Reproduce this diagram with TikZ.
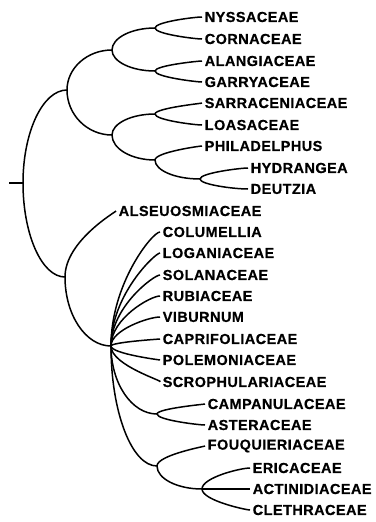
\documentclass[tikz,border=0pt]{standalone}
\usepackage{fontspec}
\setmainfont{Liberation Sans}
\newfontfamily\taxfont{Liberation Sans}[LetterSpace=3, BoldFeatures={FakeBold=0.5}]
\usetikzlibrary{calc}

\begin{document}
\begin{tikzpicture}[
    x=1pt, y=-1pt,
    line width=1.5pt,
    taxon/.style={anchor=west, inner sep=2pt, font=\taxfont\bfseries\fontsize{14.5}{17}\selectfont},
    clade/.style={to path={.. controls ($(\tikztostart)!0.55!(\tikztostart |- \tikztotarget)$) and ($(\tikztotarget)!0.55!(\tikztostart |- \tikztotarget)$) .. (\tikztotarget)}},
    twig/.style={to path={.. controls ($(\tikztostart)!0.55!(\tikztostart |- \tikztotarget)$) and ($([xshift=-9pt]\tikztotarget)!0.55!(\tikztostart |- \tikztotarget)$) .. ([xshift=-9pt]\tikztotarget) -- (\tikztotarget)}}
]
\useasboundingbox (0,0) rectangle (375,522);

\coordinate (base) at (9,183);
\coordinate (root) at (23,183);
\coordinate (upper) at (67,90);
\coordinate (lower) at (65,277);
\coordinate (corn) at (112,50);
\coordinate (nysscorn) at (155,28);
\coordinate (alangarry) at (155,71);
\coordinate (saxi) at (112,135);
\coordinate (sarrloas) at (155,114);
\coordinate (hydr) at (155,160);
\coordinate (hydrdeut) at (200,179);
\coordinate (poly) at (111,346);
\coordinate (campast) at (157,414);
\coordinate (eric) at (157,466);
\coordinate (ericclade) at (202,489);

\node[taxon] (nyss) at (202,17) {NYSSACEAE};
\node[taxon] (cornaceae) at (202,39) {CORNACEAE};
\node[taxon] (alang) at (202,61) {ALANGIACEAE};
\node[taxon] (garry) at (202,82) {GARRYACEAE};
\node[taxon] (sarr) at (202,103) {SARRACENIACEAE};
\node[taxon] (loas) at (202,125) {LOASACEAE};
\node[taxon] (phil) at (202,146) {PHILADELPHUS};
\node[taxon] (hydrangea) at (248,168) {HYDRANGEA};
\node[taxon] (deutzia) at (248,189) {DEUTZIA};
\node[taxon] (alseu) at (116,211) {ALSEUOSMIACEAE};
\node[taxon] (colum) at (160,232) {COLUMELLIA};
\node[taxon] (logan) at (160,253) {LOGANIACEAE};
\node[taxon] (solan) at (160,275) {SOLANACEAE};
\node[taxon] (rubi) at (160,296) {RUBIACEAE};
\node[taxon] (vibur) at (160,317) {VIBURNUM};
\node[taxon] (capri) at (160,339) {CAPRIFOLIACEAE};
\node[taxon] (polem) at (160,360) {POLEMONIACEAE};
\node[taxon] (scroph) at (160,382) {SCROPHULARIACEAE};
\node[taxon] (camp) at (205,404) {CAMPANULACEAE};
\node[taxon] (aster) at (205,425) {ASTERACEAE};
\node[taxon] (fouq) at (205,446) {FOUQUIERIACEAE};
\node[taxon] (ericaceae) at (250,468) {ERICACEAE};
\node[taxon] (actin) at (250,489) {ACTINIDIACEAE};
\node[taxon] (cleth) at (250,510) {CLETHRACEAE};

\draw (base) -- (root);
\draw (root) to[clade] (upper);
\draw (root) to[clade] (lower);
\draw (upper) to[clade] (corn);
\draw (upper) to[clade] (saxi);
\draw (corn) to[clade] (nysscorn);
\draw (corn) to[clade] (alangarry);
\draw (nysscorn) to[twig] (nyss);
\draw (nysscorn) to[twig] (cornaceae);
\draw (alangarry) to[twig] (alang);
\draw (alangarry) to[twig] (garry);
\draw (saxi) to[clade] (sarrloas);
\draw (saxi) to[clade] (hydr);
\draw (sarrloas) to[twig] (sarr);
\draw (sarrloas) to[twig] (loas);
\draw (hydr) to[twig] (phil);
\draw (hydr) to[clade] (hydrdeut);
\draw (hydrdeut) to[twig] (hydrangea);
\draw (hydrdeut) to[twig] (deutzia);
\draw (lower) to[twig] (alseu);
\draw (lower) to[clade] (poly);
\foreach \t in {colum,logan,solan,rubi,vibur,capri,polem,scroph}
  \draw (poly) to[twig] (\t);
\draw (poly) to[clade] (campast);
\draw (poly) to[clade] (eric);
\draw (campast) to[twig] (camp);
\draw (campast) to[twig] (aster);
\draw (eric) to[twig] (fouq);
\draw (eric) to[clade] (ericclade);
\draw (ericclade) to[twig] (ericaceae);
\draw (ericclade) to[twig] (actin);
\draw (ericclade) to[twig] (cleth);
\end{tikzpicture}
\end{document}
